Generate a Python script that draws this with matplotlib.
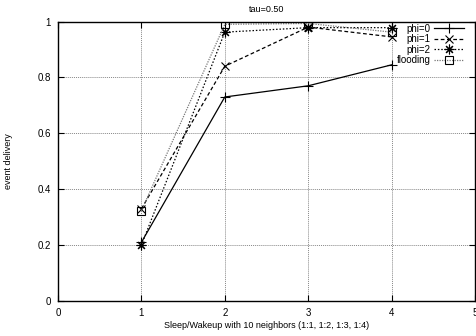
import matplotlib
matplotlib.use('Agg')
import matplotlib.pyplot as plt

plt.rcParams['font.family'] = ['Liberation Sans', 'DejaVu Sans']
plt.rcParams['font.size'] = 7

x = [1, 2, 3, 4]
phi0 = [0.21, 0.73, 0.77, 0.845]
phi1 = [0.33, 0.84, 0.98, 0.945]
phi2 = [0.20, 0.962, 0.978, 0.978]
flooding = [0.323, 0.99, 0.993, 0.962]

xticks = [0, 1, 2, 3, 4, 5]
yticks = [0, 0.2, 0.4, 0.6, 0.8, 1]
ytick_labels = ['0', '0.2', '0.4', '0.6', '0.8', '1']

fig = plt.figure(figsize=(4.76, 3.36), dpi=100)
ax = fig.add_axes([0.1218, 0.104, 0.8762, 0.832])

ax.plot(x, phi0, color='black', linestyle='-', linewidth=0.9,
        marker='+', markersize=7.5, markeredgewidth=0.8, label='phi=0')
ax.plot(x, phi1, color='black', linestyle=(0, (3, 2)), linewidth=0.9,
        marker='x', markersize=6, markeredgewidth=0.8, label='phi=1')
ax.plot(x, phi2, color='black', linestyle=(0, (1.2, 1.5)), linewidth=0.9,
        marker=(8, 2, 0), markersize=7, markeredgewidth=0.8, label='phi=2')
ax.plot(x, flooding, color='#777777', linestyle=(0, (1, 1)), linewidth=0.9,
        marker='s', markersize=6, markerfacecolor='none',
        markeredgecolor='black', markeredgewidth=0.8, label='flooding')

ax.set_xlim(0, 5)
ax.set_ylim(0, 1)
ax.set_xticks(xticks)
ax.set_yticks(yticks)
ax.set_yticklabels(ytick_labels)
ax.tick_params(direction='in', top=True, right=True, length=4, width=0.8, pad=5)
ax.grid(True, color='#888888', linestyle=(0, (1, 1)), linewidth=0.7)
for s in ax.spines.values():
    s.set_linewidth(1.0)

ax.set_title('tau=0.50', fontsize=6.5, pad=7)
ax.set_xlabel('Sleep/Wakeup with 10 neighbors (1:1, 1:2, 1:3, 1:4)', fontsize=6.5, labelpad=2)
ax.set_ylabel('event delivery', fontsize=6.5, labelpad=18)

leg = ax.legend(loc='upper right', bbox_to_anchor=(0.975, 0.995), frameon=False,
                markerfirst=False, handlelength=3.0, handletextpad=0.4,
                labelspacing=0.05, borderaxespad=0.0, borderpad=0.1, fontsize=7)
for col in leg._legend_handle_box.get_children():
    col.align = 'right'

fig.savefig('out.png', dpi=100)
